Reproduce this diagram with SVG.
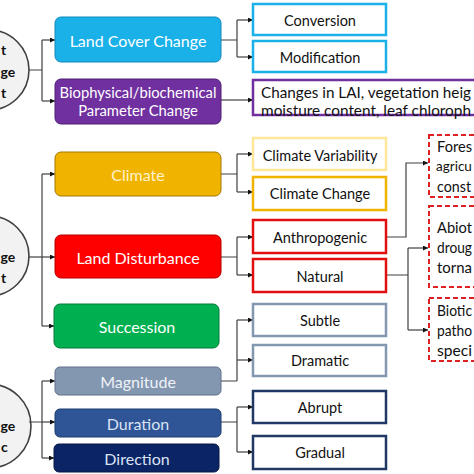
<svg xmlns="http://www.w3.org/2000/svg" width="474" height="474" viewBox="0 0 474 474">
<style>
text{font-family:Lato,"Open Sans","Liberation Sans",sans-serif;text-anchor:middle;dominant-baseline:central}
.w{fill:#ffffff;font-size:16px}
.k{fill:#111111;font-size:14.5px}
.c{fill:#f2f2f2;stroke:#404040;stroke-width:1.6}
.cl{fill:#111111;font-size:14px;font-weight:bold;text-anchor:start}
.ob{fill:#ffffff;stroke-width:2.5}
.dash{fill:#ffffff;stroke:#e02020;stroke-width:2;stroke-dasharray:5,3}
.lt{fill:#111111;font-size:15px;text-anchor:start}
.con path{fill:none;stroke:#404040;stroke-width:1.2}
</style>
<defs>
<marker id="ah" viewBox="0 0 10 10" refX="10" refY="5" markerWidth="5" markerHeight="5" orient="auto" markerUnits="userSpaceOnUse"><path d="M0,0 L10,5 L0,10 z" fill="#111"/></marker>
</defs>
<rect width="474" height="474" fill="#ffffff"/>

<g id="circle1"><circle class="c" cx="-11" cy="70" r="40"/><text class="cl" x="1" y="49">t</text><text class="cl" x="0.5" y="71">ge</text><text class="cl" x="1" y="92">t</text></g>
<g id="circle2"><circle class="c" cx="-11" cy="256" r="40"/><text class="cl" x="0.5" y="256">ge</text><text class="cl" x="1" y="277">t</text></g>
<g id="circle3"><circle class="c" cx="-11" cy="426" r="42"/><text class="cl" x="0.5" y="425">ge</text><text class="cl" x="1" y="446">c</text></g>

<g class="con" id="connectors">
<path d="M29,70 H42 M42,40 V101" />
<path d="M42,40 H55" marker-end="url(#ah)"/>
<path d="M42,101 H55" marker-end="url(#ah)"/>
<path d="M221,40 H237 M237,20 V57"/>
<path d="M237,20 H253" marker-end="url(#ah)"/>
<path d="M237,57 H253" marker-end="url(#ah)"/>
<path d="M221,100 H253" marker-end="url(#ah)"/>

<path d="M42,174 V326"/>
<path d="M42,174 H55" marker-end="url(#ah)"/>
<path d="M29,257 H55" marker-end="url(#ah)"/>
<path d="M42,326 H54" marker-end="url(#ah)"/>
<path d="M221,174 H237 M237,154 V192"/>
<path d="M237,154 H253" marker-end="url(#ah)"/>
<path d="M237,192 H253" marker-end="url(#ah)"/>
<path d="M221,257 H237 M237,237 V275"/>
<path d="M237,237 H253" marker-end="url(#ah)"/>
<path d="M237,275 H253" marker-end="url(#ah)"/>
<path d="M386,237 H406 V163 H428" marker-end="url(#ah)"/>
<path d="M386,275 H408 M408,248 V330"/>
<path d="M408,248 H428" marker-end="url(#ah)"/>
<path d="M408,330 H428" marker-end="url(#ah)"/>

<path d="M29,422 H42 M42,381 V458"/>
<path d="M42,381 H55" marker-end="url(#ah)"/>
<path d="M42,422 H55" marker-end="url(#ah)"/>
<path d="M42,458 H54" marker-end="url(#ah)"/>
<path d="M221,381 H237 M237,320 V381"/>
<path d="M237,320 H253" marker-end="url(#ah)"/>
<path d="M237,360 H253" marker-end="url(#ah)"/>
<path d="M221,422 H237 M237,407 V452"/>
<path d="M237,407 H253" marker-end="url(#ah)"/>
<path d="M237,452 H253" marker-end="url(#ah)"/>
</g>

<g id="landcover"><rect x="55" y="17" width="166" height="45" rx="6" fill="#1ab0e8" stroke="#1289bb"/><text class="w" x="138" y="40">Land Cover Change</text></g>
<g id="biophys"><rect x="55" y="79" width="166" height="45" rx="6" fill="#7030a0" stroke="#4f1f75"/><text class="w" x="138" y="92" style="font-size:14.8px">Biophysical/biochemical</text><text class="w" x="138" y="110" style="font-size:14.8px">Parameter Change</text></g>
<g id="conversion"><rect class="ob" x="253" y="4" width="133" height="31" stroke="#1ab0e8"/><text class="k" x="320" y="20">Conversion</text></g>
<g id="modification"><rect class="ob" x="253" y="41" width="133" height="31" stroke="#1ab0e8"/><text class="k" x="320" y="57">Modification</text></g>
<g id="changes"><rect class="ob" x="253" y="80" width="240" height="35" stroke="#7030a0"/><text class="lt" x="261" y="92" textLength="210" lengthAdjust="spacingAndGlyphs">Changes in LAI, vegetation heig</text><text class="lt" x="261" y="110" textLength="210" lengthAdjust="spacingAndGlyphs">moisture content, leaf chloroph</text></g>

<g id="climate"><rect x="55" y="152" width="166" height="44" rx="6" fill="#f0b400" stroke="#a07800"/><text class="w" x="138" y="174" style="fill:#fff2cc">Climate</text></g>
<g id="disturbance"><rect x="55" y="235" width="166" height="43" rx="6" fill="#ff0000" stroke="#b00000"/><text class="w" x="138" y="257">Land Disturbance</text></g>
<g id="succession"><rect x="54" y="304" width="165" height="44" rx="6" fill="#00b050" stroke="#007a38"/><text class="w" x="137" y="326">Succession</text></g>
<g id="variability"><rect class="ob" x="253" y="138" width="133" height="32" stroke="#ffe699"/><text class="k" x="320" y="155">Climate Variability</text></g>
<g id="climchange"><rect class="ob" x="253" y="177" width="133" height="33" stroke="#f0b400"/><text class="k" x="320" y="193">Climate Change</text></g>
<g id="anthro"><rect class="ob" x="253" y="220" width="133" height="33" stroke="#e01010"/><text class="k" x="320" y="237">Anthropogenic</text></g>
<g id="natural"><rect class="ob" x="253" y="259" width="133" height="33" stroke="#e01010"/><text class="k" x="320" y="276">Natural</text></g>
<g id="forest"><rect class="dash" x="429" y="135" width="60" height="62"/><text class="lt" x="437" y="146" textLength="35" lengthAdjust="spacingAndGlyphs">Fores</text><text class="lt" x="436" y="166" style="font-size:13.5px">agricu</text><text class="lt" x="437" y="186" textLength="34" lengthAdjust="spacingAndGlyphs">const</text></g>
<g id="abiotic"><rect class="dash" x="429" y="206" width="60" height="81"/><text class="lt" x="437" y="227" textLength="35" lengthAdjust="spacingAndGlyphs">Abiot</text><text class="lt" x="437" y="247" textLength="35" lengthAdjust="spacingAndGlyphs">droug</text><text class="lt" x="437" y="267" textLength="35" lengthAdjust="spacingAndGlyphs">torna</text></g>
<g id="biotic"><rect class="dash" x="429" y="298" width="60" height="63"/><text class="lt" x="437" y="310" textLength="35" lengthAdjust="spacingAndGlyphs">Biotic</text><text class="lt" x="437" y="330" textLength="35" lengthAdjust="spacingAndGlyphs">patho</text><text class="lt" x="437" y="350" textLength="35" lengthAdjust="spacingAndGlyphs">speci</text></g>

<g id="magnitude"><rect x="55" y="367" width="166" height="28" rx="5" fill="#8497b0" stroke="#5f7189"/><text class="w" x="138" y="381" style="fill:#eef2f8">Magnitude</text></g>
<g id="duration"><rect x="55" y="409" width="166" height="28" rx="5" fill="#2f5597" stroke="#1f3c6e"/><text class="w" x="138" y="423" style="fill:#dae3f3">Duration</text></g>
<g id="direction"><rect x="54" y="444" width="165" height="28" rx="5" fill="#0a2466" stroke="#061640"/><text class="w" x="137" y="458" style="fill:#dae3f3">Direction</text></g>
<g id="subtle"><rect class="ob" x="253" y="304" width="133" height="32" stroke="#8497b0"/><text class="k" x="320" y="320">Subtle</text></g>
<g id="dramatic"><rect class="ob" x="253" y="345" width="133" height="31" stroke="#8497b0"/><text class="k" x="320" y="360">Dramatic</text></g>
<g id="abrupt"><rect class="ob" x="253" y="391" width="133" height="32" stroke="#1f3864"/><text class="k" x="320" y="407">Abrupt</text></g>
<g id="gradual"><rect class="ob" x="253" y="436" width="133" height="33" stroke="#1f3864"/><text class="k" x="320" y="452">Gradual</text></g>
</svg>
